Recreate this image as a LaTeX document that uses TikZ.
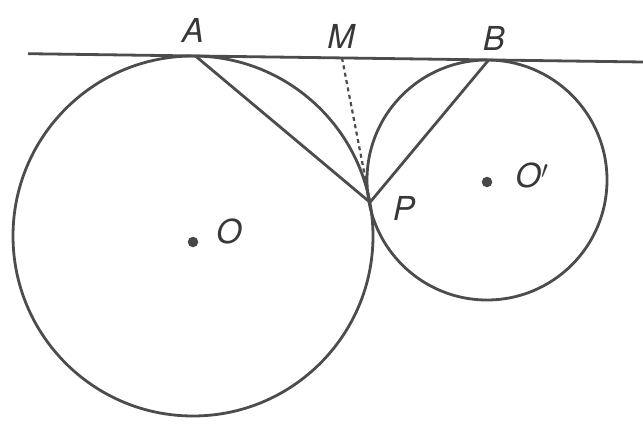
\documentclass[tikz,border=0pt]{standalone}
\usepackage{fontspec}
\setmainfont{TeX Gyre Heros}
\begin{document}
\begin{tikzpicture}[x=1pt,y=1pt,
  geo/.style={line width=2.8pt, draw=black!70},
  dashline/.style={line width=2.2pt, draw=black!70, dash pattern=on 4pt off 3.5pt},
  lbl/.style={font=\fontsize{33}{33}\selectfont\itshape, text=black!78, inner sep=0pt},
  ctr/.style={circle, fill=black!72, inner sep=0pt, minimum size=10.5pt}]
\useasboundingbox (0,0) rectangle (643,-428);
\coordinate (O) at (193,-236);
\coordinate (O2) at (487,-180);
\coordinate (A) at (195.45,-56.0);
\coordinate (B) at (488.63,-60.0);
\coordinate (M) at (342.0,-58.0);
\coordinate (P) at (370.0,-202.3);
\coordinate (L) at (28,-53.7);
\coordinate (R) at (643,-62.0);
% circles
\draw[geo] (O) circle (180);
\draw[geo] (O2) circle (120);
% tangent line
\draw[geo] (L) -- (R);
% chords
\draw[geo] (A) -- (P);
\draw[geo] (B) -- (P);
\draw[dashline] (M) -- (P);
% centres
\node[ctr] (Od) at (193,-242) {};
\node[ctr] (O2d) at (487,-182) {};
% labels
\node[lbl] (lA) at (193,-30) {A};
\node[lbl] (lM) at (341,-36) {M};
\node[lbl] (lB) at (494,-38) {B};
\node[lbl] (lP) at (404,-208) {P};
\node[lbl] (lO) at (229,-231) {O};
\node[lbl] (lO2) at (532,-175) {O$'$};
\end{tikzpicture}
\end{document}
